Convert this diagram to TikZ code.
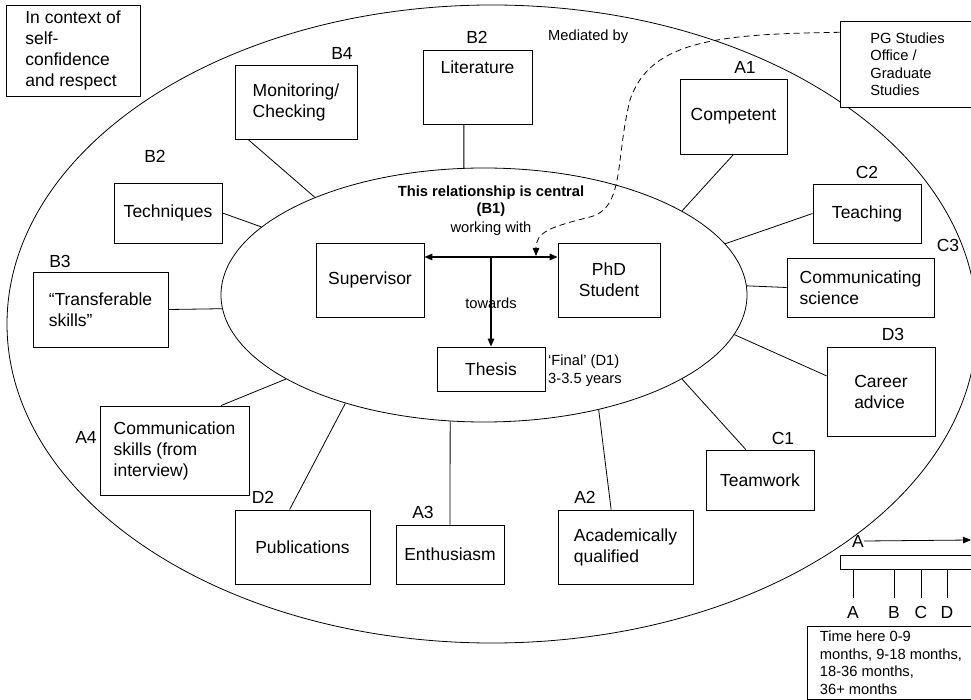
\documentclass[tikz,border=0pt]{standalone}
\usepackage{fontspec}
\setmainfont{Liberation Sans}
\usepackage{tikz}
\usetikzlibrary{positioning, shapes.geometric, arrows.meta}

\newcommand{\mainsize}{\fontsize{17.5pt}{21pt}\selectfont}
\newcommand{\notesize}{\fontsize{14.7pt}{17.5pt}\selectfont}

\begin{document}
\begin{tikzpicture}[x=1pt, y=-1pt, >={Triangle[length=8pt, width=6.5pt]},
  itembox/.style={draw, fill=white, line width=0.9pt, align=left, inner sep=2pt, font=\mainsize},
  tag/.style={inner sep=0pt, font=\mainsize},
  note/.style={inner sep=0pt, align=left, font=\notesize},
  link/.style={line width=0.8pt}]
\useasboundingbox (0,0) rectangle (971,700);
\clip (0,0) rectangle (971,700);

\draw[link] (492,324) ellipse [x radius=485pt, y radius=319pt];
\node[draw, ellipse, link, inner sep=0pt, minimum width=526pt, minimum height=254pt] (relation) at (484,295) {};

\node[itembox, minimum width=134pt, minimum height=91pt] (context) at (73,50.5) {In context of\\self-\\confidence\\and respect};
\node[itembox, minimum width=122pt, minimum height=74pt] (monitoring) at (296,102) {Monitoring/\\Checking};
\node[itembox, minimum width=109pt, minimum height=74pt] (literature) at (477.5,87) {};
\node[tag, below=11pt of literature.north] (littext) {Literature};
\node[itembox, minimum width=107pt, minimum height=75pt] (competent) at (733.5,116.5) {Competent};
\node[itembox, minimum width=108pt, minimum height=59pt] (teaching) at (867,213.5) {Teaching};
\node[itembox, minimum width=108pt, minimum height=60pt] (techniques) at (168,213) {Techniques};
\node[itembox, minimum width=135pt, minimum height=75pt] (transferable) at (100.5,309.5) {“Transferable\\skills”};
\node[itembox, minimum width=147pt, minimum height=59pt] (communicating) at (860.5,287.5) {Communicating\\science};
\node[itembox, minimum width=108pt, minimum height=89pt] (career) at (881,391.5) {Career\\advice};
\node[itembox, minimum width=149pt, minimum height=89pt] (communication) at (174.5,450.5) {Communication\\skills (from\\interview)};
\node[itembox, minimum width=108pt, minimum height=60pt] (teamwork) at (760,480) {Teamwork};
\node[itembox, minimum width=135pt, minimum height=74pt] (publications) at (302.5,547) {Publications};
\node[itembox, minimum width=108pt, minimum height=59pt] (enthusiasm) at (450,554.5) {Enthusiasm};
\node[itembox, minimum width=135pt, minimum height=74pt] (academic) at (625.5,547) {Academically\\qualified};
\node[itembox, minimum width=108pt, minimum height=74pt] (supervisor) at (370,280) {Supervisor};
\node[itembox, align=center, minimum width=102pt, minimum height=74pt] (student) at (609,280) {PhD\\Student};
\node[itembox, minimum width=108pt, minimum height=44pt] (thesis) at (491,369) {Thesis};
\node[itembox, font=\notesize, minimum width=135pt, minimum height=86pt] (pgoffice) at (907.5,64) {PG Studies\\Office /\\Graduate\\Studies};
\node[itembox, font=\notesize, minimum width=168pt, minimum height=73pt] (timebox) at (891,662.5) {Time here 0-9\\months, 9-18 months,\\18-36 months,\\36+ months};

\node[tag] (b4) at (342,53) {B4};
\node[tag] (b2lit) at (477,37) {B2};
\node[tag] (a1) at (745,67) {A1};
\node[tag] (b2tec) at (155,156) {B2};
\node[tag] (c2) at (867,172) {C2};
\node[tag] (b3) at (60,261) {B3};
\node[tag] (c3) at (948,245) {C3};
\node[tag] (d3) at (893,334) {D3};
\node[tag] (a4) at (86,437) {A4};
\node[tag] (c1) at (783,438) {C1};
\node[tag] (d2) at (263,497) {D2};
\node[tag] (a3) at (423,512) {A3};
\node[tag] (a2) at (585,497) {A2};

\node[note, font=\notesize\bfseries, align=center] (centraltext) at (491,201) {This relationship is central\\(B1)};
\node[note] (working) at (491,229) {working with};
\node[note] (towards) at (491,303) {towards};
\node[note, anchor=west] (final) at (548,370.5) {‘Final’ (D1)\\3-3.5 years};
\node[note, anchor=west] (mediated) at (548,37) {Mediated by};

\draw[link] (monitoring.218) -- (relation.150);
\draw[link] (literature.250) -- (relation.99);
\draw[link] (techniques.east) -- (relation.163);
\draw[link] (transferable.east) -- (relation.183);
\draw[link] (communication.44) -- (relation.203);
\draw[link] (publications.109) -- (relation.218);
\draw[link] (enthusiasm.north) -- (relation.255);
\draw[link] (academic.111) -- (relation.315);
\draw[link] (teamwork.115) -- (relation.337);
\draw[link] (career.164) -- (relation.351);
\draw[link] (communicating.west) -- (relation.2);
\draw[link] (teaching.west) -- (relation.12);
\draw[link] (competent.south) -- (relation.23);

\coordinate (junction) at (491,257);
\coordinate (meet) at (536,256);
\draw[<->, line width=1.5pt] (supervisor.east |- junction) -- (student.west |- junction);
\draw[->, line width=1.5pt] (junction) -- (thesis.north);
\draw[->, link, dash pattern=on 6pt off 4pt] (pgoffice.155) .. controls (720,34) and (650,40) .. (630,100)
  .. controls (615,160) and (625,208) .. (590,217) .. controls (550,227) and (536,232) .. (meet);

\node[tag] (start) at (858,541) {A};
\coordinate (later) at (971,540);
\draw[->, link] (start.east) -- (later);
\draw[line width=0.9pt] (840,555) rectangle (985,569);
\foreach \x/\l in {853/A, 894/B, 921/C, 947/D} {
  \draw[link] (\x,569) -- (\x,598);
  \node[tag] at (\x,612) {\l};
}
\end{tikzpicture}
\end{document}
